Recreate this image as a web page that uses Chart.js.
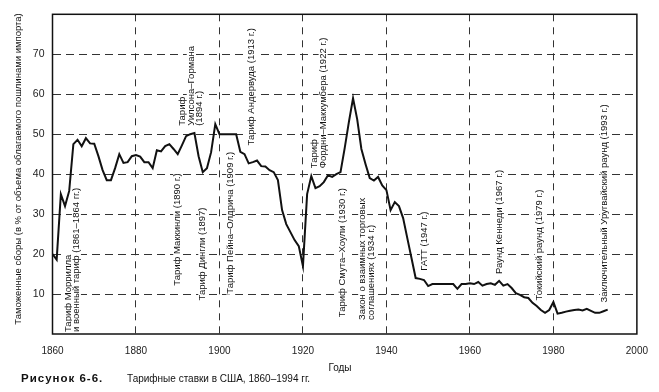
<!DOCTYPE html>
<html>
<head>
  <title>Тарифные ставки в США</title>
  <script src="https://cdn.jsdelivr.net/npm/chart.js"></script>
  <style>
    html, body { margin: 0; padding: 0; background: #fff; }
    #wrap { width: 659px; height: 392px; position: relative; }
  </style>
</head>
<body>
  <div id="wrap">
    <canvas id="chart_tariff"></canvas>
  </div>

  <script>
    // years and tariff level (% of dutiable imports)
    const years = [
      1860, 1861, 1862, 1863, 1864, 1865, 1866, 1867, 1868, 1869,
      1870, 1871, 1872, 1873, 1874, 1875, 1876, 1877, 1878, 1879,
      1880, 1881, 1882, 1883, 1884, 1885, 1886, 1887, 1888, 1889,
      1890, 1891, 1892, 1893, 1894, 1895, 1896, 1897, 1898, 1899,
      1900, 1901, 1902, 1903, 1904, 1905, 1906, 1907, 1908, 1909,
      1910, 1911, 1912, 1913, 1914, 1915, 1916, 1917, 1918, 1919,
      1920, 1921, 1922, 1923, 1924, 1925, 1926, 1927, 1928, 1929,
      1930, 1931, 1932, 1933, 1934, 1935, 1936, 1937, 1938, 1939,
      1940, 1941, 1942, 1943, 1944, 1945, 1946, 1947, 1948, 1949,
      1950, 1951, 1952, 1953, 1954, 1955, 1956, 1957, 1958, 1959,
      1960, 1961, 1962, 1963, 1964, 1965, 1966, 1967, 1968, 1969,
      1970, 1971, 1972, 1973, 1974, 1975, 1976, 1977, 1978, 1979,
      1980, 1981, 1982, 1983, 1984, 1985, 1986, 1987, 1988, 1989,
      1990, 1991, 1992, 1993
    ];
    const tariff = [
      20.0, 18.6, 35.0, 32.0, 35.8, 47.5, 48.6, 47.0, 49.0, 47.7,
      47.6, 44.5, 41.0, 38.5, 38.5, 41.5, 45.0, 42.8, 43.0, 44.5,
      44.8, 44.4, 43.0, 43.0, 41.5, 46.0, 45.7, 47.0, 47.5, 46.3,
      45.0, 47.2, 49.5, 50.0, 50.3, 44.5, 40.5, 41.5, 45.5, 52.5,
      50.0, 50.0, 50.0, 50.0, 50.0, 45.6, 45.0, 42.7, 43.0, 43.4,
      42.0, 41.9, 41.0, 40.5, 38.5, 31.0, 27.5, 25.5, 23.5, 22.0,
      17.0, 35.0, 39.5, 36.5, 37.0, 38.0, 39.7, 39.3, 40.0, 40.5,
      46.5, 53.0, 59.0, 53.7, 46.3, 42.5, 39.0, 38.4, 39.3, 37.2,
      36.0, 31.0, 33.0, 32.0, 29.0, 24.0, 19.0, 14.0, 13.8, 13.5,
      12.0, 12.5, 12.5, 12.5, 12.5, 12.5, 12.5, 11.3, 12.5, 12.5,
      12.7, 12.5, 13.0, 12.1, 12.5, 12.7, 12.3, 13.3, 12.1, 12.5,
      11.5, 10.2, 9.8, 9.2, 9.0, 7.8, 7.0, 6.0, 5.3, 6.0,
      8.0, 5.1, 5.3, 5.6, 5.8, 6.0, 6.1, 5.9, 6.3, 5.8,
      5.3, 5.3, 5.7, 6.1
    ];
    const xTicks = [1860, 1880, 1900, 1920, 1940, 1960, 1980, 2000];
    const yTicks = [10, 20, 30, 40, 50, 60, 70];

    // tariff acts, anchored at (year, value) of the bottom of the vertical text
    const acts = [
      { year: 1863.7, value: 0.5, lines: ['Тариф Моррилла', 'и военный тариф (1861–1864 гг.)'] },
      { year: 1890.0, value: 12.1, lines: ['Тариф Маккинли (1890 г.)'] },
      { year: 1891.2, value: 52.1, lines: ['Тариф', 'Уилсона–Гормана', '(1894 г.)'] },
      { year: 1896.0, value: 8.4, lines: ['Тариф Дингли (1897)'] },
      { year: 1902.7, value: 10.1, lines: ['Тариф Пейна–Олдрича (1909 г.)'] },
      { year: 1907.7, value: 47.2, lines: ['Тариф Андервуда (1913 г.)'] },
      { year: 1922.8, value: 41.5, lines: ['Тариф', 'Фордни–Маккумбера (1922 г.)'] },
      { year: 1929.5, value: 4.2, lines: ['Тариф Смута–Хоули (1930 г.)'] },
      { year: 1934.3, value: 3.5, lines: ['Закон о взаимных торговых', 'соглашениях (1934 г.)'] },
      { year: 1949.1, value: 15.8, lines: ['ГАТТ (1947 г.)'] },
      { year: 1967.1, value: 15.0, lines: ['Раунд Кеннеди (1967 г.)'] },
      { year: 1976.6, value: 8.4, lines: ['Токийский раунд (1979 г.)'] },
      { year: 1992.2, value: 7.9, lines: ['Заключительный Уругвайский раунд (1993 г.)'] }
    ];

    const FONT = '"Liberation Sans", Arial, sans-serif';

    // vertical labels sit on the grid (white under the text), under the line
    const actsPlugin = {
      id: 'acts',
      beforeDatasetsDraw(chart) {
        const ctx = chart.ctx;
        const xs = chart.scales.x;
        const ys = chart.scales.y;
        ctx.save();
        ctx.font = '9.5px ' + FONT;
        ctx.textAlign = 'left';
        ctx.textBaseline = 'middle';
        acts.forEach(act => {
          const x0 = xs.getPixelForValue(act.year);
          const y0 = ys.getPixelForValue(act.value);
          act.lines.forEach((ln, i) => {
            const w = ctx.measureText(ln).width;
            ctx.save();
            ctx.translate(x0 + i * 8.5, y0);
            ctx.rotate(-Math.PI / 2);
            ctx.fillStyle = '#fff';
            ctx.fillRect(-1, -4.5, w + 2, 9);
            ctx.fillStyle = '#111';
            ctx.fillText(ln, 0, 0);
            ctx.restore();
          });
        });
        ctx.restore();
      }
    };

    // frame, axis titles and caption
    const decorPlugin = {
      id: 'decor',
      afterDatasetsDraw(chart) {
        const ctx = chart.ctx;
        const a = chart.chartArea;

        ctx.save();
        ctx.strokeStyle = '#111';
        ctx.lineWidth = 1.5;
        ctx.strokeRect(a.left, a.top, a.right - a.left, a.bottom - a.top);

        ctx.fillStyle = '#111';
        ctx.textBaseline = 'middle';

        // y axis title
        ctx.save();
        ctx.font = '9.5px ' + FONT;
        ctx.textAlign = 'center';
        ctx.translate(18, 169);
        ctx.rotate(-Math.PI / 2);
        ctx.fillText('Таможенные сборы (в % от объема облагаемого пошлинами импорта)', 0, 0);
        ctx.restore();

        // x axis title
        ctx.font = '10px ' + FONT;
        ctx.textAlign = 'center';
        ctx.fillText('Годы', 340, 368);

        // caption
        ctx.textAlign = 'left';
        ctx.font = 'bold 11.5px ' + FONT;
        ctx.letterSpacing = '1px';
        ctx.fillText('Рисунок 6-6.', 21, 379);
        ctx.letterSpacing = '0px';
        ctx.font = '10px ' + FONT;
        ctx.fillText('Тарифные ставки в США, 1860–1994 гг.', 127, 379);
        ctx.restore();
      }
    };

    const points = years.map((y, i) => ({ x: y, y: tariff[i] }));

    new Chart(document.getElementById('chart_tariff').getContext('2d'), {
      type: 'line',
      data: {
        datasets: [{
          data: points,
          borderColor: '#111',
          borderWidth: 2,
          pointRadius: 0,
          tension: 0,
          fill: false
        }]
      },
      options: {
        responsive: true,
        maintainAspectRatio: false,
        animation: false,
        layout: { padding: { top: 8, right: 19, left: 0, bottom: 0 } },
        plugins: {
          legend: { display: false },
          tooltip: { enabled: false }
        },
        scales: {
          x: {
            type: 'linear',
            min: 1860,
            max: 2000,
            afterBuildTicks(scale) {
              scale.ticks = xTicks.map(v => ({ value: v }));
            },
            afterFit(scale) { scale.height = 58; },
            border: { display: false, dash: [7, 6] },
            grid: {
              drawTicks: false,
              color: ctx => (ctx.tick && (ctx.tick.value === 1860 || ctx.tick.value === 2000)) ? 'rgba(0,0,0,0)' : '#333',
              lineWidth: 1
            },
            ticks: {
              padding: 11,
              color: '#222',
              font: { family: FONT, size: 10 },
              maxRotation: 0,
              callback: v => String(v)
            }
          },
          y: {
            min: 0,
            max: 80,
            afterBuildTicks(scale) {
              scale.ticks = yTicks.map(v => ({ value: v }));
            },
            afterFit(scale) { scale.width = 52.5; },
            border: { display: false, dash: [8, 5] },
            grid: {
              drawTicks: false,
              color: '#333',
              lineWidth: 1
            },
            ticks: {
              padding: 8,
              color: '#222',
              font: { family: FONT, size: 10.5 },
              callback: v => String(v)
            }
          }
        }
      },
      plugins: [actsPlugin, decorPlugin]
    });
  </script>
</body>
</html>
